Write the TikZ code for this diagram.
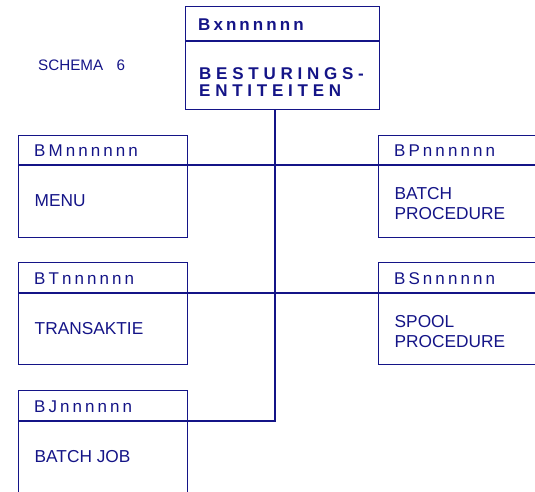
\documentclass[tikz,border=0pt]{standalone}
\usepackage{fontspec}
\setmainfont{Liberation Sans}
\newfontfamily\hdrfont[LetterSpace=18]{Liberation Sans}
\newfontfamily\ttlfont[LetterSpace=18]{Liberation Sans Bold}
\newfontfamily\bodyboldfont[LetterSpace=28]{Liberation Sans Bold}
\definecolor{navy}{RGB}{20,20,135}
\tikzset{
  box/.style={draw=navy, line width=1.3pt, anchor=north west, inner sep=0pt, rectangle},
  lbl/.style={anchor=base west, inner sep=0pt, text=navy, font=\fontsize{17.3}{20}\selectfont},
  hdr/.style={lbl, font=\fontsize{17}{20}\selectfont\hdrfont},
  ttl/.style={lbl, font=\fontsize{17}{20}\selectfont\ttlfont},
  bbody/.style={lbl, font=\fontsize{17}{17.7}\selectfont\bodyboldfont},
  body/.style={lbl, font=\fontsize{17.3}{20.4}\selectfont},
  link/.style={draw=navy, line width=1.3pt}
}
\newcommand{\twolines}[2]{\vtop{\hbox{#1}\hbox{#2}}}
\begin{document}
\begin{tikzpicture}[x=1pt,y=-1pt]
\useasboundingbox (0,0) rectangle (535,491);
\clip (0,0) rectangle (535,491);
% boxes
\node[box, minimum width=194pt, minimum height=103pt] (top) at (185,6) {};
\node[box, minimum width=169pt, minimum height=102pt] (bm) at (18,135) {};
\node[box, minimum width=170pt, minimum height=102pt] (bp) at (378,135) {};
\node[box, minimum width=169pt, minimum height=102pt] (bt) at (18,262) {};
\node[box, minimum width=170pt, minimum height=102pt] (bs) at (378,262) {};
\node[box, minimum width=169pt, minimum height=110pt] (bj) at (18,390) {};
% header dividers
\coordinate (topdiv) at (185,41);
\coordinate (row1) at (0,165);
\coordinate (row2) at (0,293);
\coordinate (row3) at (0,421);
\draw[link] (top.west |- topdiv) -- (top.east |- topdiv);
\draw[link] (bm.west |- row1) -- (bm.east |- row1);
\draw[link] (bp.west |- row1) -- (bp.east |- row1);
\draw[link] (bt.west |- row2) -- (bt.east |- row2);
\draw[link] (bs.west |- row2) -- (bs.east |- row2);
\draw[link] (bj.west |- row3) -- (bj.east |- row3);
% texts
\node[lbl, font=\fontsize{15.2}{18}\selectfont] (schema) at (38,70.5) {SCHEMA\hspace{13.5pt}6};
\node[ttl] (ttop) at (198,30.7) {Bxnnnnnn};
\node[bbody] (btop) at (199,79) {\twolines{BESTURINGS-}{ENTITEITEN}};
\node[hdr] (hbm) at (34,156.7) {BMnnnnnn};
\node[body] (tbm) at (34.5,206) {MENU};
\node[hdr] (hbp) at (394,156.7) {BPnnnnnn};
\node[body] (tbp) at (394.5,199) {\twolines{BATCH}{PROCEDURE}};
\node[hdr] (hbt) at (34,284.7) {BTnnnnnn};
\node[body] (tbt) at (34.5,334) {TRANSAKTIE};
\node[hdr] (hbs) at (394,284.7) {BSnnnnnn};
\node[body] (tbs) at (394.5,327) {\twolines{SPOOL}{PROCEDURE}};
\node[hdr] (hbj) at (34,412.7) {BJnnnnnn};
\node[body] (tbj) at (34.5,462) {BATCH JOB};
% connectors
\coordinate (trunktop) at (275,109);
\coordinate (trunkend) at (275,421);
\draw[link] (trunktop) -- (trunkend) -- (bj.east |- row3);
\draw[link] (bm.east |- row1) -- (bp.west |- row1);
\draw[link] (bt.east |- row2) -- (bs.west |- row2);
\end{tikzpicture}
\end{document}
